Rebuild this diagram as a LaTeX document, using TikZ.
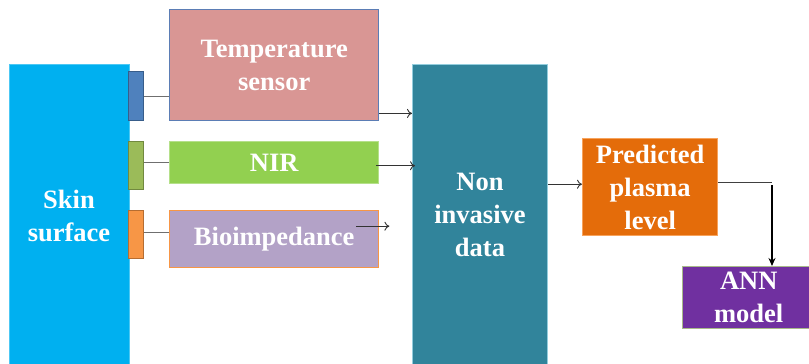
\documentclass[tikz,border=0pt]{standalone}
\usepackage{fontspec}
\setmainfont{Liberation Serif}
\usetikzlibrary{arrows.meta}
\definecolor{skinblue}{HTML}{00B0F0}
\definecolor{tabblue}{HTML}{4F81BD}
\definecolor{tabblueD}{HTML}{385D8A}
\definecolor{tabgreen}{HTML}{9BBB59}
\definecolor{tabgreenD}{HTML}{71893F}
\definecolor{taborange}{HTML}{F79646}
\definecolor{taborangeD}{HTML}{B66D31}
\definecolor{tempfill}{HTML}{D99694}
\definecolor{tempedge}{HTML}{5B7DB5}
\definecolor{nirfill}{HTML}{92D050}
\definecolor{niredge}{HTML}{B5E08A}
\definecolor{biofill}{HTML}{B3A2C7}
\definecolor{bioedge}{HTML}{F79646}
\definecolor{teal}{HTML}{31849B}
\definecolor{tealedge}{HTML}{93CDDD}
\definecolor{predfill}{HTML}{E46C0A}
\definecolor{prededge}{HTML}{F7A35C}
\definecolor{annfill}{HTML}{7030A0}
\definecolor{annedge}{HTML}{A9B98A}
\definecolor{linkgray}{HTML}{6F6F6F}
\tikzset{
  block/.style={rectangle, anchor=north west, inner sep=0pt, line width=1.4pt,
    align=center, text=white,
    font=\bfseries\fontsize{26.5}{33}\selectfont},
  label text/.style={text=white, align=center,
    font=\bfseries\fontsize{26.5}{33}\selectfont},
  tab/.style={rectangle, anchor=north west, inner sep=0pt, line width=1.2pt,
    minimum width=15pt},
  link/.style={draw=linkgray, line width=1.2pt},
  arr/.style={draw=black!80, line width=0.9pt, -{To[length=5pt,width=9pt]}},
  bigarr/.style={draw=black, line width=1.6pt, -{Stealth[length=8pt,width=7pt]}}
}
\begin{document}
\begin{tikzpicture}[x=1pt,y=-1pt]
\clip (0,0) rectangle (809,364);
\fill[white] (0,0) rectangle (809,364);

% skin surface column and its three sensor tabs
\node[block, fill=skinblue, draw=skinblue!70!white, minimum width=120pt, minimum height=310pt]
  (skin) at (9,64) {};
\node[label text] (skinlbl) at (69,216) {Skin\\surface};
\node[tab, fill=tabblue, draw=tabblueD, minimum height=49pt] (tab1) at (128,71) {};
\node[tab, fill=tabgreen, draw=tabgreenD, minimum height=48pt] (tab2) at (128,141) {};
\node[tab, fill=taborange, draw=taborangeD, minimum height=48pt] (tab3) at (128,210) {};

% sensor boxes
\node[block, fill=tempfill, draw=tempedge, minimum width=209pt, minimum height=111pt]
  (temp) at (169,9) {Temperature\\sensor};
\node[block, fill=nirfill, draw=niredge, minimum width=209pt, minimum height=42pt]
  (nir) at (169,141) {NIR};
\node[block, fill=biofill, draw=bioedge, minimum width=209pt, minimum height=57pt]
  (bio) at (169,210) {\raisebox{-3pt}{Bioimpedance}};

% processing chain
\node[block, fill=teal, draw=tealedge, minimum width=135pt, minimum height=300pt]
  (noninv) at (412,64) {};
\node[label text] (noninvlbl) at (480,215) {Non\\invasive\\data};
\node[block, fill=predfill, draw=prededge, minimum width=135pt, minimum height=97pt]
  (pred) at (582,138) {Predicted\\plasma\\level};
\node[block, fill=annfill, draw=annedge, minimum width=132pt, minimum height=62pt]
  (ann) at (682,266) {ANN\\model};

% tab-to-sensor links
\draw[link] (tab1.east) -- (tab1.east -| temp.west);
\draw[link] ([yshift=3pt]tab2.east) -- ([yshift=3pt]tab2.east -| nir.west);
\draw[link] ([yshift=2pt]tab3.east) -- ([yshift=2pt]tab3.east -| bio.west);

% sensor outputs
\coordinate (t1) at ([yshift=8pt]temp.south east);
\draw[arr] (t1) -- (t1 -| noninv.west);
\coordinate (n1) at ([xshift=-3pt,yshift=-3pt]nir.east);
\draw[arr] (n1) -- ([xshift=3pt]n1 -| noninv.west);
\coordinate (b1) at ([xshift=-23pt,yshift=13pt]bio.east);
\coordinate (b2) at ([xshift=10pt,yshift=13pt]bio.east);
\draw[arr] (b1) -- (b2);

% data to prediction to model
\coordinate (p1) at ([yshift=3pt]pred.west);
\draw[arr] (p1 -| noninv.east) -- (p1);
\coordinate (c1) at ([yshift=5pt]pred.east);
\coordinate (c2) at (772,0);
\draw[link, draw=black!75] (c1) -- (c1 -| c2);
\draw[bigarr] ([yshift=-3pt]c1 -| c2) -- (c2 |- ann.north);
\end{tikzpicture}
\end{document}
